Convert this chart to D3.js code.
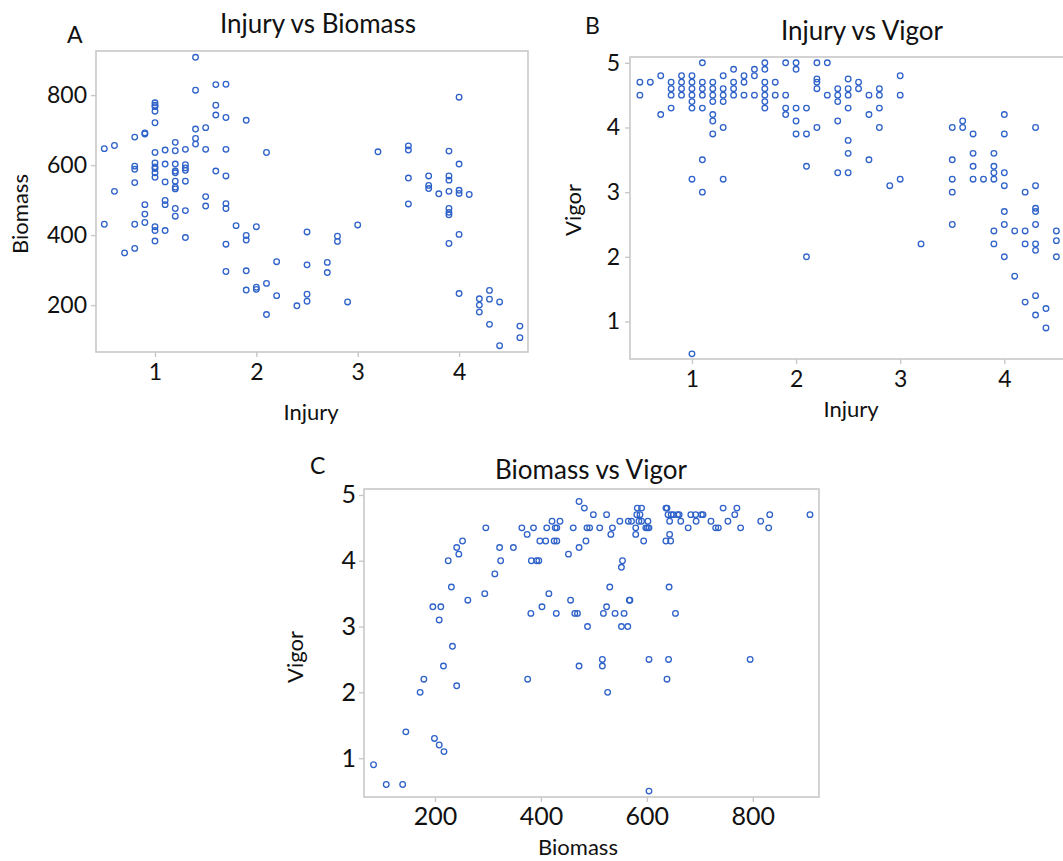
<!DOCTYPE html>
<html>
<head>
<meta charset="utf-8">
<script src="https://cdn.jsdelivr.net/npm/d3@7"></script>
<style>
body { margin: 0; background: #fff; overflow: hidden; }
svg { display: block; font-family: Lato, "Open Sans", sans-serif; }
</style>
</head>
<body>
<div class="container"></div>
<script>
const width = 1063;
const height = 861;

// ---- data ----
// panel A: Injury vs Biomass
const injuryA = [
    0.5, 0.5, 0.6, 0.6, 0.7,
    0.8, 0.8, 0.8, 0.8, 0.8, 0.8,
    0.9, 0.9, 0.9, 0.9, 0.9,
    1.0, 1.0, 1.0, 1.0, 1.0, 1.0, 1.0, 1.0, 1.0, 1.0, 1.0, 1.0, 1.0, 1.0,
    1.1, 1.1, 1.1, 1.1, 1.1, 1.1,
    1.2, 1.2, 1.2, 1.2, 1.2, 1.2, 1.2, 1.2, 1.2, 1.2,
    1.3, 1.3, 1.3, 1.3, 1.3, 1.3, 1.3,
    1.4, 1.4, 1.4, 1.4, 1.4,
    1.5, 1.5, 1.5, 1.5,
    1.6, 1.6, 1.6, 1.6,
    1.7, 1.7, 1.7, 1.7, 1.7, 1.7, 1.7, 1.7,
    1.8,
    1.9, 1.9, 1.9, 1.9, 1.9,
    2.0, 2.0, 2.0,
    2.1, 2.1, 2.1,
    2.2, 2.2, 2.4,
    2.5, 2.5, 2.5, 2.5,
    2.7, 2.7, 2.8, 2.8, 2.9, 3.0, 3.2,
    3.5, 3.5, 3.5, 3.5,
    3.7, 3.7, 3.7, 3.8,
    3.9, 3.9, 3.9, 3.9, 3.9, 3.9, 3.9, 3.9,
    4.0, 4.0, 4.0, 4.0, 4.0, 4.0,
    4.1,
    4.2, 4.2, 4.2,
    4.3, 4.3, 4.3,
    4.4, 4.4, 4.6, 4.6
];
const biomassA = [
    647, 431, 656, 525, 349,
    680, 597, 588, 550, 431, 362,
    692, 689, 487, 460, 436,
    778, 771, 767, 754, 721, 636, 606, 595, 590, 578, 565, 424, 413, 383,
    643, 603, 552, 499, 487, 413,
    665, 641, 603, 583, 578, 554, 537, 532, 476, 454,
    645, 601, 592, 585, 554, 470, 393,
    908, 814, 703, 676, 660,
    707, 645, 510, 483,
    830, 771, 743, 583,
    831, 736, 645, 569, 490, 476, 374, 296,
    427,
    728, 399, 386, 298, 243,
    424, 251, 245,
    636, 262, 173,
    324, 227, 198,
    409, 315, 231, 211,
    322, 293, 397, 382, 209, 429, 638,
    655, 643, 563, 489,
    569, 542, 533, 518,
    640, 569, 557, 525, 476, 465, 458, 376,
    794, 603, 528, 519, 402, 233,
    516,
    218, 200, 180,
    242, 217, 145,
    209, 84, 140, 107
];

// panel B: Injury vs Vigor
const injuryB = [
    0.5, 0.5, 0.6, 0.7, 0.7,
    0.8, 0.8, 0.8, 0.8,
    0.9, 0.9, 0.9, 0.9,
    1.0, 1.0, 1.0, 1.0, 1.0, 1.0, 1.0, 1.0,
    1.1, 1.1, 1.1, 1.1, 1.1, 1.1, 1.1,
    1.2, 1.2, 1.2, 1.2, 1.2, 1.2, 1.2,
    1.3, 1.3, 1.3, 1.3, 1.3, 1.3,
    1.4, 1.4, 1.4, 1.4,
    1.5, 1.5, 1.5,
    1.6, 1.6, 1.6,
    1.7, 1.7, 1.7, 1.7, 1.7, 1.7, 1.7,
    1.8, 1.8,
    1.9, 1.9, 1.9, 1.9,
    2.0, 2.0, 2.0, 2.0, 2.0,
    2.1, 2.1, 2.1, 2.1,
    2.2, 2.2, 2.2, 2.2, 2.2,
    2.3, 2.3,
    2.4, 2.4, 2.4, 2.4, 2.4,
    2.5, 2.5, 2.5, 2.5, 2.5, 2.5, 2.5,
    2.6, 2.6,
    2.7, 2.7, 2.7,
    2.8, 2.8, 2.8, 2.8,
    2.9, 3.0, 3.0, 3.0, 3.2,
    3.5, 3.5, 3.5, 3.5, 3.5,
    3.6, 3.6,
    3.7, 3.7, 3.7, 3.7, 3.8,
    3.9, 3.9, 3.9, 3.9, 3.9, 3.9,
    4.0, 4.0, 4.0, 4.0, 4.0, 4.0, 4.0,
    4.1, 4.1,
    4.2, 4.2, 4.2, 4.2,
    4.3, 4.3, 4.3, 4.3, 4.3, 4.3, 4.3, 4.3, 4.3,
    4.4, 4.4,
    4.5, 4.5, 4.5, 4.6
];
const vigorB = [
    4.7, 4.5, 4.7, 4.8, 4.2,
    4.7, 4.6, 4.5, 4.3,
    4.8, 4.7, 4.6, 4.5,
    4.8, 4.7, 4.6, 4.5, 4.4, 4.3, 3.2, 0.5,
    5.0, 4.7, 4.6, 4.5, 4.3, 3.5, 3.0,
    4.7, 4.6, 4.5, 4.4, 4.2, 4.1, 3.9,
    4.8, 4.6, 4.5, 4.4, 4.0, 3.2,
    4.9, 4.7, 4.6, 4.5,
    4.8, 4.7, 4.5,
    4.9, 4.8, 4.5,
    5.0, 4.9, 4.7, 4.6, 4.5, 4.4, 4.3,
    4.7, 4.5,
    5.0, 4.5, 4.3, 4.2,
    5.0, 4.9, 4.3, 4.1, 3.9,
    4.3, 3.9, 3.4, 2.0,
    5.0, 4.75, 4.7, 4.6, 4.0,
    5.0, 4.5,
    4.6, 4.5, 4.4, 4.1, 3.3,
    4.75, 4.6, 4.5, 4.3, 3.8, 3.6, 3.3,
    4.7, 4.6,
    4.5, 4.2, 3.5,
    4.6, 4.5, 4.3, 4.0,
    3.1, 4.8, 4.5, 3.2, 2.2,
    4.0, 3.5, 3.2, 3.0, 2.5,
    4.1, 4.0,
    3.9, 3.6, 3.4, 3.2, 3.2,
    3.6, 3.4, 3.3, 3.2, 2.4, 2.2,
    4.2, 3.9, 3.3, 3.1, 2.7, 2.5, 2.0,
    2.4, 1.7,
    3.0, 2.4, 2.2, 1.3,
    4.0, 3.1, 2.75, 2.7, 2.5, 2.2, 2.1, 1.4, 1.1,
    1.2, 0.9,
    2.4, 2.25, 2.0, 0.6
];

// panel C: Biomass vs Vigor
const biomassC = [
    84, 108, 139, 145, 199, 208, 217, 172, 179, 216,
    241, 233, 196, 211, 208, 231, 262, 225, 241, 245,
    252, 294, 296, 313, 322, 324, 348, 364, 374, 375,
    382, 381, 386, 392, 396, 398, 402, 409, 411, 415,
    421, 425, 430, 427, 430, 429, 436, 452, 456, 461,
    464, 469, 472, 472, 472, 482, 499, 524, 487, 492,
    511, 535, 549, 565, 571, 582, 590, 581, 587, 585,
    590, 579, 602, 598, 601, 604, 579, 594, 532, 485,
    554, 552, 530, 642, 636, 638, 640, 646, 650, 658,
    661, 643, 664, 643, 636, 645, 678, 683, 692, 693,
    703, 706, 721, 730, 735, 744, 753, 766, 770, 777,
    815, 832, 830, 908, 488, 524, 518, 540, 557, 552,
    564, 567, 568, 654, 516, 516, 604, 641, 795, 638,
    526, 604
];
const vigorC = [
    0.9, 0.6, 0.6, 1.4, 1.3, 1.2, 1.1, 2.0, 2.2, 2.4,
    2.1, 2.7, 3.3, 3.3, 3.1, 3.6, 3.4, 4.0, 4.2, 4.1,
    4.3, 3.5, 4.5, 3.8, 4.2, 4.0, 4.2, 4.5, 4.4, 2.2,
    4.0, 3.2, 4.5, 4.0, 4.0, 4.3, 3.3, 4.3, 4.5, 3.5,
    4.6, 4.3, 4.3, 4.5, 4.5, 3.2, 4.6, 4.1, 3.4, 4.5,
    3.2, 3.2, 4.9, 4.2, 2.4, 4.8, 4.7, 4.7, 4.5, 4.5,
    4.5, 4.5, 4.6, 4.6, 4.6, 4.8, 4.8, 4.7, 4.7, 4.6,
    4.6, 4.5, 4.6, 4.5, 4.5, 4.5, 4.4, 4.3, 4.4, 4.3,
    4.0, 3.9, 3.6, 3.6, 4.8, 4.8, 4.7, 4.7, 4.7, 4.7,
    4.7, 4.6, 4.6, 4.4, 4.3, 4.3, 4.5, 4.7, 4.7, 4.6,
    4.7, 4.7, 4.6, 4.5, 4.5, 4.8, 4.6, 4.7, 4.8, 4.5,
    4.6, 4.7, 4.5, 4.7, 3.0, 3.3, 3.2, 3.2, 3.2, 3.0,
    3.0, 3.4, 3.4, 3.2, 2.5, 2.4, 2.5, 2.5, 2.5, 2.2,
    2.0, 0.5
];

// tick labels
const injuryTicks = [1, 2, 3, 4];
const biomassTicks = [200, 400, 600, 800];
const vigorTicks = [1, 2, 3, 4, 5];

const POINT_COLOR = "#2f62c9";
const FRAME_COLOR = "#c8c8c8";

const svg = d3.select(".container")
    .append("svg")
    .attr("width", width)
    .attr("height", height);

svg.append("rect").attr("width", width).attr("height", height).attr("fill", "#fff");

const panels = [
    {
        letter: "A", title: "Injury vs Biomass", xLabel: "Injury", yLabel: "Biomass",
        xs: injuryA, ys: biomassA, xTicks: injuryTicks, yTicks: biomassTicks,
        xDomain: [0.418, 4.68], yDomain: [66, 926],
        box: { x0: 96, x1: 528, y0: 51, y1: 352 },
        tickFont: 23, xPad: 7, yPad: 4,
        letterPos: [67, 43], titlePos: [318, 33], xLabelPos: [311, 420], yLabelPos: [28, 214]
    },
    {
        letter: "B", title: "Injury vs Vigor", xLabel: "Injury", yLabel: "Vigor",
        xs: injuryB, ys: vigorB, xTicks: injuryTicks, yTicks: vigorTicks,
        xDomain: [0.405, 4.65], yDomain: [0.42, 5.09],
        box: { x0: 630, x1: 1072, y0: 57, y1: 359 },
        tickFont: 23, xPad: 7, yPad: 5,
        letterPos: [585, 34], titlePos: [862, 40], xLabelPos: [851, 417], yLabelPos: [581, 210]
    },
    {
        letter: "C", title: "Biomass vs Vigor", xLabel: "Biomass", yLabel: "Vigor",
        xs: biomassC, ys: vigorC, xTicks: biomassTicks, yTicks: vigorTicks,
        xDomain: [66, 925], yDomain: [0.41, 5.09],
        box: { x0: 364, x1: 819, y0: 489, y1: 797 },
        tickFont: 25, xPad: 5, yPad: 3,
        letterPos: [310, 474], titlePos: [591, 479], xLabelPos: [578, 855], yLabelPos: [303, 657]
    }
];

panels.forEach(p => {
    const g = svg.append("g");
    const x = d3.scaleLinear().domain(p.xDomain).range([p.box.x0, p.box.x1]);
    const y = d3.scaleLinear().domain(p.yDomain).range([p.box.y1, p.box.y0]);

    // frame
    g.append("rect")
        .attr("x", p.box.x0).attr("y", p.box.y0)
        .attr("width", p.box.x1 - p.box.x0)
        .attr("height", p.box.y1 - p.box.y0)
        .attr("fill", "none")
        .attr("stroke", FRAME_COLOR)
        .attr("stroke-width", 1.6);

    const xAxis = g.append("g")
        .attr("transform", `translate(0,${p.box.y1})`)
        .call(d3.axisBottom(x).tickValues(p.xTicks).tickFormat(d3.format("d"))
            .tickSize(5).tickPadding(p.xPad));
    const yAxis = g.append("g")
        .attr("transform", `translate(${p.box.x0},0)`)
        .call(d3.axisLeft(y).tickValues(p.yTicks).tickFormat(d3.format("d"))
            .tickSize(5).tickPadding(p.yPad));

    [xAxis, yAxis].forEach(a => {
        a.select(".domain").remove();
        a.selectAll(".tick line").attr("stroke", FRAME_COLOR).attr("stroke-width", 1.4);
        a.selectAll(".tick text")
            .attr("fill", "#111")
            .style("font-family", "Lato, 'Open Sans', sans-serif")
            .style("font-size", p.tickFont + "px");
    });

    // points
    const pts = p.xs.map((v, i) => ({ x: v, y: p.ys[i] }));
    g.append("g")
        .selectAll("circle")
        .data(pts)
        .enter()
        .append("circle")
        .attr("cx", d => x(d.x))
        .attr("cy", d => y(d.y))
        .attr("r", 2.8)
        .attr("fill", "none")
        .attr("stroke", POINT_COLOR)
        .attr("stroke-width", 1.3);

    // texts
    g.append("text")
        .attr("x", p.letterPos[0]).attr("y", p.letterPos[1])
        .attr("font-size", 23).attr("fill", "#111")
        .text(p.letter);
    g.append("text")
        .attr("x", p.titlePos[0]).attr("y", p.titlePos[1])
        .attr("text-anchor", "middle")
        .attr("font-size", 26).attr("fill", "#111")
        .text(p.title);
    g.append("text")
        .attr("x", p.xLabelPos[0]).attr("y", p.xLabelPos[1])
        .attr("text-anchor", "middle")
        .attr("font-size", 22).attr("fill", "#111")
        .text(p.xLabel);
    g.append("text")
        .attr("transform", `translate(${p.yLabelPos[0]},${p.yLabelPos[1]}) rotate(-90)`)
        .attr("text-anchor", "middle")
        .attr("font-size", 22).attr("fill", "#111")
        .text(p.yLabel);
});
</script>
</body>
</html>
